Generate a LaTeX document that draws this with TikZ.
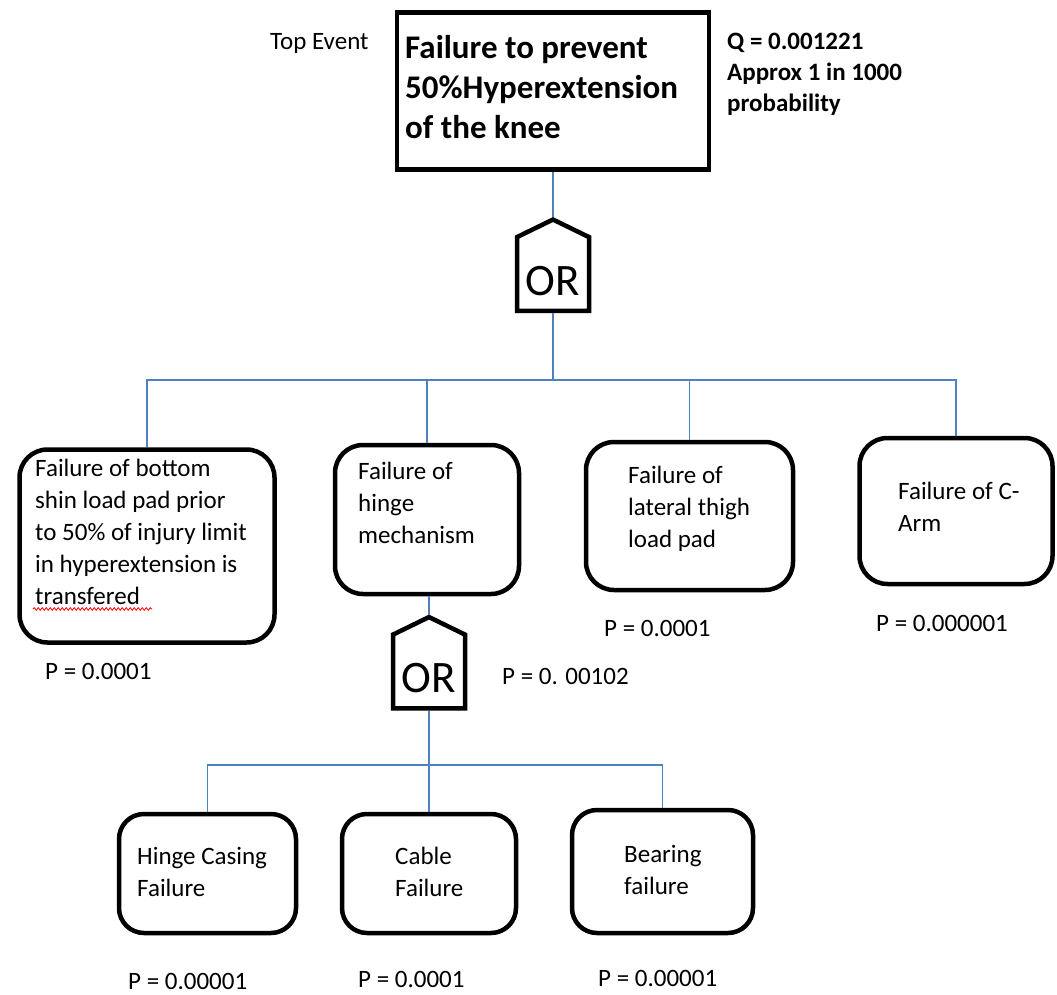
\documentclass[tikz,border=0pt]{standalone}
\usepackage{fontspec}
\setmainfont{Carlito}
\usetikzlibrary{shapes.symbols,decorations.pathmorphing}
\definecolor{wireblue}{RGB}{79,129,189}
\tikzset{
  evt/.style={draw, line width=4.5pt, rounded corners=28pt},
  topbox/.style={draw, line width=4.5pt, minimum width=312pt, minimum height=157pt},
  gate/.style={draw, line width=4.5pt, shape=signal, signal to=north, signal pointer angle=128, minimum width=72pt, minimum height=87pt, inner sep=0pt, font=\fontsize{45}{45}\selectfont},
  txt/.style={anchor=west, align=left, inner sep=0pt, font=\fontsize{25}{32}\selectfont},
  bigtxt/.style={txt, font=\fontsize{33}{40}\selectfont\bfseries},
  qtxt/.style={txt, font=\fontsize{25}{31}\selectfont\bfseries},
  wire/.style={draw=wireblue, line width=1.5pt},
}
\newcommand{\gatelabel}{\raisebox{-7pt}[\height][\depth]{OR}}
\begin{document}
\begin{tikzpicture}[x=1pt, y=-1pt]
\useasboundingbox (0,0) rectangle (1057,995);
% top event
\node[topbox] (top) at (553,91) {};
\node[bigtxt] (toptxt) at (405,87) {Failure to prevent\\50\%Hyperextension\\of the knee};
\node[txt] (toplab) at (270,43) {Top Event};
\node[qtxt] (qval) at (727,74) {Q = 0.001221\\Approx 1 in 1000\\probability};
\node[gate] (g1) at (553,274) {\gatelabel};
% first level events
\node[evt, minimum width=255pt, minimum height=193pt] (b1) at (147,546) {};
\node[evt, minimum width=184pt, minimum height=149pt] (b2) at (427,519.5) {};
\node[evt, minimum width=207pt, minimum height=148pt] (b3) at (689.5,516) {};
\node[evt, minimum width=193pt, minimum height=146pt] (b4) at (956,511) {};
\node[txt] (b1txt) at (35,532) {Failure of bottom\\shin load pad prior\\to 50\% of injury limit\\in hyperextension is\\transfered};
\node[txt] (b2txt) at (358,503) {Failure of\\hinge\\mechanism};
\node[txt] (b3txt) at (628,509) {Failure of\\lateral thigh\\load pad};
\node[txt] (b4txt) at (898,507) {Failure of C-\\Arm};
\draw[red, line width=0.8pt, decorate, decoration={snake, amplitude=1.3pt, segment length=4pt}] (33,609) -- (152,609);
\node[txt] (p1) at (45,671) {P = 0.0001};
\node[txt] (p3) at (604,628) {P = 0.0001};
\node[txt] (p4) at (876,623) {P = 0.000001};
\node[gate] (g2) at (429,671.5) {\gatelabel};
\node[txt] (pg2) at (502,676) {P = 0. 00102};
% hinge events
\node[evt, rounded corners=25pt, minimum width=177pt, minimum height=119pt] (b5) at (207.5,873.5) {};
\node[evt, rounded corners=25pt, minimum width=174pt, minimum height=119pt] (b6) at (429,873.5) {};
\node[evt, rounded corners=25pt, minimum width=181pt, minimum height=123pt] (b7) at (662.5,871.5) {};
\node[txt] (b5txt) at (137,872) {Hinge Casing\\Failure};
\node[txt] (b6txt) at (395,872) {Cable\\Failure};
\node[txt] (b7txt) at (624,870) {Bearing\\failure};
\node[txt] (p5) at (128,981) {P = 0.00001};
\node[txt] (p6) at (358,979) {P = 0.0001};
\node[txt] (p7) at (598,978) {P = 0.00001};
% wires
\coordinate (bus1) at (553,380);
\coordinate (bus2) at (429,765);
\draw[wire] (top.south) -- (g1.north);
\draw[wire] (g1.south) -- (bus1);
\draw[wire] (bus1) -| (b1.north); \draw[wire] (bus1) -| (b2.north);
\draw[wire] (bus1) -| (b3.north); \draw[wire] (bus1) -| (b4.north);
\draw[wire] (g2.north |- b2.south) -- (g2.north);
\draw[wire] (g2.south) -- (bus2);
\draw[wire] (bus2) -| (b5.north); \draw[wire] (bus2) -| (b6.north); \draw[wire] (bus2) -| (b7.north);
\end{tikzpicture}
\end{document}
